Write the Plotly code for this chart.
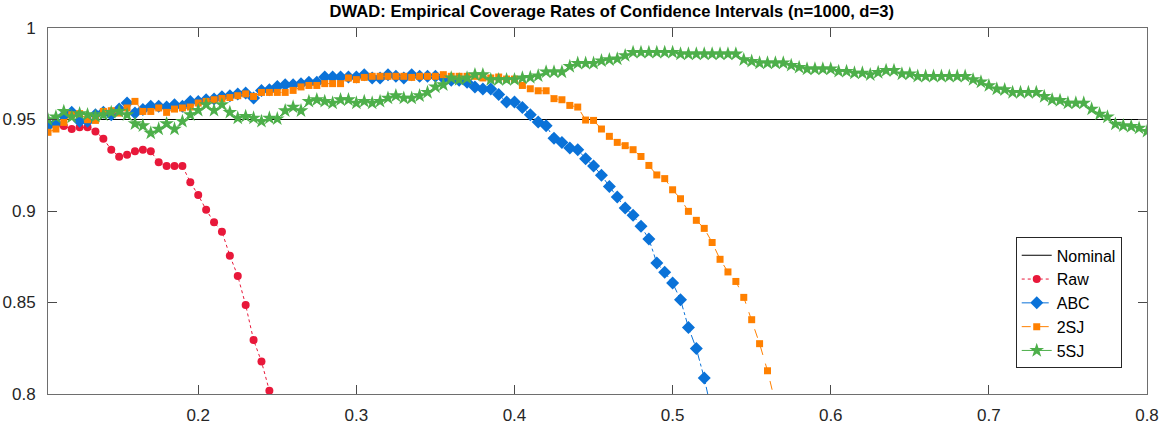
import numpy as np
import plotly.graph_objects as go

# x grid (bandwidth values)
x_grid = np.round(np.arange(0.105, 0.8001, 0.005), 3)

nominal_x = [0.105, 0.8]
nominal_y = [0.95, 0.95]

raw_y = [0.948, 0.947, 0.9465, 0.9448, 0.9457, 0.9457, 0.9435, 0.9395, 0.9335, 0.9297,
         0.9308, 0.9326, 0.9335, 0.9326, 0.9266, 0.9246, 0.9246, 0.9246, 0.9157, 0.9087,
         0.9007, 0.8938, 0.8887, 0.8756, 0.8645, 0.8486, 0.8295, 0.8177, 0.8018, 0.785]

abc_y = [0.9466, 0.9481, 0.9521, 0.9539, 0.9490, 0.9490, 0.9526, 0.9539, 0.9526, 0.9557,
         0.9590, 0.9535, 0.9554, 0.9572, 0.9572, 0.9568, 0.9581, 0.9572, 0.9599, 0.9599,
         0.9608, 0.9612, 0.9625, 0.9630, 0.9640, 0.9645,
         0.9617, 0.9659, 0.9663, 0.9681, 0.9690, 0.9690, 0.9696, 0.9703, 0.9703, 0.9732,
         0.9732, 0.9732, 0.9732, 0.9732, 0.9745, 0.9727, 0.9727, 0.9745, 0.9736, 0.9727,
         0.9745, 0.9736, 0.9736, 0.9736, 0.9727, 0.9714, 0.9714, 0.9703, 0.9678, 0.9667,
         0.9667, 0.9636,
         0.9596, 0.9596, 0.9566, 0.9526, 0.9486, 0.9466, 0.9397, 0.9375, 0.9344, 0.9335,
         0.9286, 0.9246, 0.9196, 0.9134, 0.9076, 0.9017, 0.8977, 0.8916, 0.8847, 0.8716,
         0.8665, 0.8607, 0.8515, 0.8364, 0.8248, 0.8087, 0.789]

sj2_y = [0.9430, 0.9448, 0.9484, 0.9526, 0.9532, 0.9499, 0.9495, 0.9544, 0.9548, 0.9535,
         0.9563, 0.9599, 0.9544, 0.9544, 0.9563, 0.9539, 0.9557, 0.9563, 0.9568, 0.9590,
         0.9599, 0.9608, 0.9615, 0.9620, 0.9630, 0.9640,
         0.9626, 0.9648, 0.9648, 0.9648, 0.9648, 0.9659, 0.9678, 0.9686, 0.9686, 0.9696,
         0.9696, 0.9696, 0.9727, 0.9718, 0.9730, 0.9736, 0.9736, 0.9736, 0.9736, 0.9736,
         0.9730, 0.9736, 0.9736, 0.9736, 0.9745, 0.9736, 0.9736, 0.9736, 0.9736, 0.9727,
         0.9727, 0.9732,
         0.9721, 0.9721, 0.9686, 0.9668, 0.9657, 0.9657, 0.9614, 0.9608, 0.9577, 0.9568,
         0.9497, 0.9495, 0.9448, 0.9408, 0.9375, 0.9357, 0.9335, 0.9298, 0.9249, 0.9197,
         0.9177, 0.9116, 0.9067, 0.8998, 0.8949, 0.8905, 0.8828, 0.8736, 0.8667, 0.8615,
         0.8528, 0.8406, 0.8275, 0.8127, 0.795]

sj5_y = [0.9499, 0.9514, 0.9544, 0.9514, 0.9532, 0.9526, 0.9517, 0.9526, 0.9539, 0.9544,
         0.9526, 0.9477, 0.9466, 0.9426, 0.9448, 0.9477, 0.9448, 0.9490, 0.9526, 0.9550,
         0.9581, 0.9550, 0.9581, 0.9539, 0.9508, 0.9517,
         0.9508, 0.9490, 0.9508, 0.9504, 0.9548, 0.9568, 0.9548, 0.9599, 0.9608, 0.9599,
         0.9590, 0.9608, 0.9608, 0.9590, 0.9599, 0.9590, 0.9599, 0.9617, 0.9630, 0.9617,
         0.9617, 0.9630, 0.9648, 0.9678, 0.9690, 0.9727, 0.9718, 0.9727, 0.9745,
         0.9745, 0.9718, 0.9718, 0.9718, 0.9718, 0.9727, 0.9730, 0.9739, 0.9760, 0.9760,
         0.9760, 0.9790, 0.9807, 0.9807, 0.9807, 0.9821, 0.9827, 0.9831, 0.9849, 0.9867,
         0.9867, 0.9867, 0.9867, 0.9867, 0.9867, 0.9858, 0.9858, 0.9858, 0.9858, 0.9858,
         0.9858, 0.9858, 0.9858, 0.9827, 0.9818, 0.9809, 0.9809, 0.9809, 0.9809, 0.9796,
         0.9785, 0.9776, 0.9776, 0.9776, 0.9776,
         0.9763, 0.9763, 0.9754, 0.9754, 0.9745, 0.9757, 0.9768, 0.9768, 0.9749, 0.9749,
         0.9736, 0.9736, 0.9736, 0.9736, 0.9736, 0.9736, 0.9736, 0.9718, 0.9705, 0.9685,
         0.9667, 0.9663, 0.9648, 0.9648, 0.9648, 0.9648, 0.9626, 0.9608, 0.9604, 0.9590,
         0.9590, 0.9590, 0.9557, 0.9530, 0.9514, 0.9475, 0.9466, 0.9462, 0.9453, 0.9435]

x_ticks = [0.2, 0.3, 0.4, 0.5, 0.6, 0.7, 0.8]
x_ticktext = ["0.2", "0.3", "0.4", "0.5", "0.6", "0.7", "0.8"]
y_ticks = [0.8, 0.85, 0.9, 0.95, 1.0]
y_ticktext = ["0.8", "0.85", "0.9", "0.95", "1"]

title_text = "DWAD: Empirical Coverage Rates of Confidence Intervals (n=1000, d=3)"

RED = "#E8183A"
BLUE = "#0A72D8"
ORANGE = "#FF8000"
GREEN = "#4DAF4A"

fig = go.Figure()
fig.add_trace(go.Scatter(x=nominal_x, y=nominal_y, mode="lines", name="Nominal",
                         line=dict(color="black", width=1)))
fig.add_trace(go.Scatter(x=x_grid[:len(raw_y)], y=raw_y, mode="lines+markers", name="Raw",
                         line=dict(color=RED, width=1, dash="dot"),
                         marker=dict(symbol="circle", size=8, color=RED, line=dict(width=0))))
fig.add_trace(go.Scatter(x=x_grid[:len(abc_y)], y=abc_y, mode="lines+markers", name="ABC",
                         line=dict(color=BLUE, width=1, dash="dashdot"),
                         marker=dict(symbol="diamond", size=10, color=BLUE, line=dict(width=0))))
fig.add_trace(go.Scatter(x=x_grid[:len(sj2_y)], y=sj2_y, mode="lines+markers", name="2SJ",
                         line=dict(color=ORANGE, width=1, dash="dash"),
                         marker=dict(symbol="square", size=7, color=ORANGE, line=dict(width=0))))
fig.add_trace(go.Scatter(x=x_grid[:len(sj5_y)], y=sj5_y, mode="lines+markers", name="5SJ",
                         line=dict(color=GREEN, width=1),
                         marker=dict(symbol="star", size=11, color=GREEN, line=dict(width=0))))

axis_common = dict(showgrid=False, zeroline=False, showline=True, linecolor="#6e6e6e",
                   linewidth=1, mirror="ticks", ticks="inside", ticklen=9, tickwidth=1,
                   tickcolor="#4a4a4a", automargin=False,
                   tickfont=dict(family="Liberation Sans, Arial, sans-serif", size=17, color="#262626"))

fig.update_layout(
    width=1165, height=426,
    margin=dict(l=48, r=18, t=28, b=32),
    paper_bgcolor="white", plot_bgcolor="white",
    title=dict(text="<b>" + title_text + "</b>", x=0.513, xanchor="center",
               xref="paper", y=1 - 11 / 426, yref="container", yanchor="middle",
               font=dict(family="Liberation Sans, Arial, sans-serif", size=16.6, color="black")),
    xaxis=dict(range=[0.105, 0.8], tickvals=x_ticks, ticktext=x_ticktext,
               ticklabelstandoff=6, **axis_common),
    yaxis=dict(range=[0.8, 1.0], tickvals=y_ticks, ticktext=y_ticktext,
               ticklabelstandoff=8, **axis_common),
    legend=dict(x=0.977, y=0.428, xanchor="right", yanchor="top",
                bgcolor="white", bordercolor="#262626", borderwidth=1,
                font=dict(family="Liberation Sans, Arial, sans-serif", size=16, color="black"),
                tracegroupgap=0),
    showlegend=True,
)

fig.write_html("out.html",
               config={"displayModeBar": False},
               post_script="document.body.style.margin='0px';document.body.style.padding='0px';")
